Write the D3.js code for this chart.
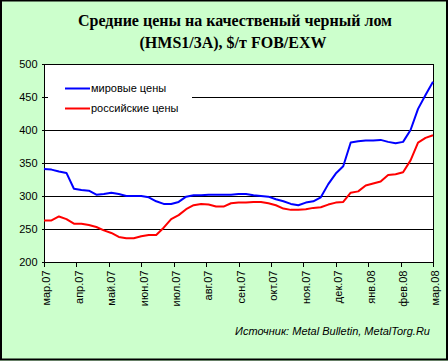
<!DOCTYPE html>
<html>
<head>
<meta charset="utf-8">
<script src="https://cdn.jsdelivr.net/npm/d3@7"></script>
<style>
  body { margin: 0; background: #fff; }
  svg { display: block; }
</style>
</head>
<body>
<div id="chart"></div>
<script>
// month tick labels (13 ticks, mar.07 .. mar.08)
var months = ['мар.07', 'апр.07', 'май.07', 'июн.07', 'июл.07', 'авг.07', 'сен.07',
              'окт.07', 'ноя.07', 'дек.07', 'янв.08', 'фев.08', 'мар.08'];

// weekly prices, $/t (53 points)
var worldPrices = [341, 340, 337, 335, 311, 309, 308, 302, 303, 305,
                   303, 300, 300, 300, 298, 292, 288, 288, 291, 299,
                   301, 301, 302, 302, 302, 302, 303, 303, 301, 300,
                   299, 295, 292, 288, 286, 290, 292, 298, 318, 334,
                   345, 381, 383, 384, 384, 385, 382, 380, 382, 400,
                   432, 453, 473];
var russianPrices = [263, 263, 269, 265, 258, 258, 256, 253, 248, 244,
                     238, 236, 236, 239, 241, 241, 252, 265, 271, 280,
                     286, 288, 287, 284, 284, 289, 290, 290, 291, 291,
                     289, 286, 281, 279, 279, 280, 282, 283, 287, 290,
                     291, 305, 307, 316, 319, 322, 332, 333, 336, 354,
                     381, 388, 392];

var yTicks = [200, 250, 300, 350, 400, 450, 500];
var seriesNames = ['мировые цены', 'российские цены'];
var seriesColors = ['#0000ff', '#ff0000'];

var width = 448,
    height = 361,
    plot = { left: 44, right: 433, top: 64, bottom: 262 };

var svg = d3.select('#chart').append('svg')
    .attr('width', width)
    .attr('height', height);

// background + outer frame
svg.append('rect')
    .attr('x', 0).attr('y', 0)
    .attr('width', width).attr('height', height)
    .attr('fill', '#ccffcc');
svg.append('rect')
    .attr('x', 1).attr('y', 0.5)
    .attr('width', width - 2).attr('height', height - 2)
    .attr('fill', 'none')
    .attr('stroke', '#000')
    .attr('stroke-width', 2);

// title
var title = svg.append('text')
    .attr('text-anchor', 'middle')
    .style('font-family', '"Liberation Serif", "Times New Roman", serif')
    .style('font-size', '16px')
    .style('font-weight', 'bold')
    .attr('fill', '#000');
title.append('tspan').attr('x', 235).attr('y', 26).text('Средние цены на качественый черный лом');
title.append('tspan').attr('x', 233).attr('y', 48).text('(HMS1/3A), $/т FOB/EXW');

// scales
var x = d3.scaleLinear()
    .domain([0, worldPrices.length - 1])
    .range([plot.left, plot.right]);

var xMonth = d3.scalePoint()
    .domain(months)
    .range([plot.left, plot.right]);

var y = d3.scaleLinear()
    .domain([200, 500])
    .range([plot.bottom, plot.top]);

// plot area
svg.append('rect')
    .attr('x', plot.left).attr('y', plot.top)
    .attr('width', plot.right - plot.left)
    .attr('height', plot.bottom - plot.top)
    .attr('fill', '#fff');

// gridlines
svg.append('g')
    .selectAll('line')
    .data(yTicks.slice(1, -1))
    .enter().append('line')
    .attr('x1', plot.left).attr('x2', plot.right)
    .attr('y1', function(d) { return Math.round(y(d)) + 0.5; })
    .attr('y2', function(d) { return Math.round(y(d)) + 0.5; })
    .attr('stroke', '#000')
    .attr('shape-rendering', 'crispEdges');

// plot frame
svg.append('rect')
    .attr('x', plot.left + 0.5).attr('y', plot.top + 0.5)
    .attr('width', plot.right - plot.left)
    .attr('height', plot.bottom - plot.top)
    .attr('fill', 'none')
    .attr('stroke', '#000')
    .attr('shape-rendering', 'crispEdges');

// y axis
var yAxis = svg.append('g')
    .attr('transform', 'translate(' + (plot.left + 0.5) + ',0)')
    .call(d3.axisLeft(y).tickValues(yTicks).tickSize(3).tickPadding(4));

// x axis
var xAxis = svg.append('g')
    .attr('transform', 'translate(0,' + (plot.bottom + 0.5) + ')')
    .call(d3.axisBottom(xMonth).tickSize(4));

xAxis.selectAll('text')
    .attr('transform', 'rotate(-90)')
    .attr('text-anchor', 'end')
    .attr('x', -8)
    .attr('y', 2)
    .attr('dy', '0.35em');

[yAxis, xAxis].forEach(function(ax) {
    ax.select('.domain').remove();
    ax.selectAll('line').attr('stroke', '#000').attr('shape-rendering', 'crispEdges');
    ax.selectAll('text')
        .attr('fill', '#000')
        .style('font-family', '"Liberation Sans", Arial, sans-serif')
        .style('font-size', '11px');
});

// legend
var legend = svg.append('g');
legend.append('rect')
    .attr('x', 48).attr('y', 74)
    .attr('width', 144).attr('height', 44)
    .attr('fill', '#fff');

var legendItems = legend.selectAll('g')
    .data(seriesNames)
    .enter().append('g')
    .attr('transform', function(d, i) { return 'translate(65,' + (88.5 + i * 20) + ')'; });

legendItems.append('line')
    .attr('x1', 0).attr('x2', 25)
    .attr('stroke', function(d, i) { return seriesColors[i]; })
    .attr('stroke-width', 2);

legendItems.append('text')
    .attr('x', 26)
    .attr('dy', '0.35em')
    .style('font-family', '"Liberation Sans", Arial, sans-serif')
    .style('font-size', '11px')
    .text(function(d) { return d; });

// series lines
var line = d3.line()
    .x(function(d, i) { return x(i); })
    .y(function(d) { return y(d); });

svg.append('g')
    .selectAll('path')
    .data([worldPrices, russianPrices])
    .enter().append('path')
    .attr('d', line)
    .attr('fill', 'none')
    .attr('stroke', function(d, i) { return seriesColors[i]; })
    .attr('stroke-width', 2)
    .attr('stroke-linejoin', 'round');

// source note
svg.append('text')
    .attr('x', 430)
    .attr('y', 335)
    .attr('text-anchor', 'end')
    .style('font-family', '"Liberation Sans", Arial, sans-serif')
    .style('font-size', '11px')
    .style('font-style', 'italic')
    .text('Источник: Metal Bulletin, MetalTorg.Ru');
</script>
</body>
</html>
